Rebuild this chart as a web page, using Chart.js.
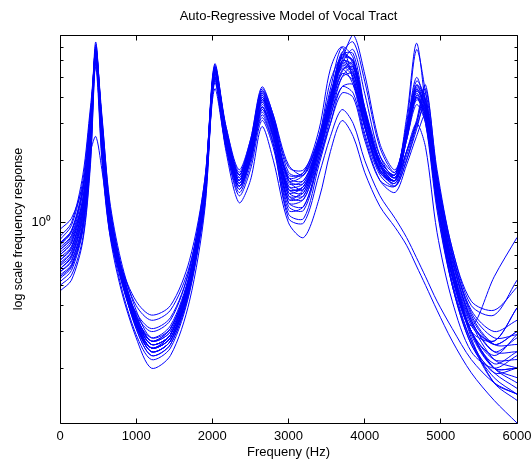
<!DOCTYPE html>
<html>
<head>
<meta charset="utf-8">
<title>Auto-Regressive Model of Vocal Tract</title>
<script src="https://cdn.jsdelivr.net/npm/chart.js@4.4.1/dist/chart.umd.min.js"></script>
<style>
  html, body { margin: 0; padding: 0; background: #fff; }
  canvas { display: block; }
</style>
</head>
<body>
<canvas id="myChart" width="532" height="466"></canvas>
<script>
// frequency grid (Hz) shared by every response curve
const freqs = [0, 150, 300, 400, 470, 550, 650, 800, 1000, 1200, 1450, 1700, 1900, 2030, 2180, 2350, 2500, 2650, 2800, 3000, 3200, 3400, 3550, 3700, 3850, 4000, 4200, 4400, 4550, 4680, 4800, 4950, 5150, 5400, 5700, 6000];

// one response per analysis frame
const r01 = [0.74, 0.86, 1.3, 2.8, 6.9, 2.4, 1.05, 0.6, 0.34, 0.26, 0.29, 0.52, 1.4, 5.6, 2.6, 1.6, 2.3, 4.2, 3.1, 1.6, 1.45, 2.4, 3.8, 6.0, 5.6, 3.2, 1.9, 1.6, 2.6, 4.6, 3.4, 1.3, 0.55, 0.3, 0.2, 0.17];
const r02 = [0.55, 0.62, 0.95, 2.3, 7.2, 3.0, 1.2, 0.62, 0.36, 0.27, 0.3, 0.55, 1.5, 5.8, 2.8, 1.7, 2.4, 4.0, 2.9, 1.35, 1.3, 2.2, 3.5, 6.4, 6.5, 3.6, 2.0, 1.7, 2.9, 5.0, 3.5, 1.4, 0.6, 0.3, 0.21, 0.24];
const r03 = [0.83, 0.97, 1.6, 3.4, 5.6, 2.0, 0.9, 0.55, 0.37, 0.31, 0.35, 0.6, 1.6, 5.0, 2.5, 1.5, 2.1, 3.6, 2.7, 1.5, 1.55, 2.5, 4.2, 5.5, 4.6, 2.7, 1.7, 1.5, 2.0, 2.9, 3.7, 1.5, 0.55, 0.3, 0.27, 0.39];
const r04 = [0.62, 0.7, 1.1, 2.6, 6.6, 2.8, 1.1, 0.56, 0.31, 0.23, 0.26, 0.48, 1.3, 5.4, 2.9, 1.8, 2.5, 4.4, 3.3, 1.75, 1.7, 2.6, 4.4, 7.0, 6.2, 3.4, 2.0, 1.7, 2.7, 4.2, 3.2, 1.2, 0.5, 0.26, 0.18, 0.15];
const r05 = [0.93, 1.05, 1.5, 2.2, 2.6, 1.8, 1.0, 0.62, 0.4, 0.34, 0.38, 0.62, 1.4, 4.4, 2.3, 1.5, 2.0, 3.2, 2.4, 1.2, 1.15, 2.0, 3.0, 4.2, 4.0, 2.5, 1.6, 1.5, 2.2, 3.0, 2.3, 0.9, 0.42, 0.24, 0.2, 0.23];
const r06 = [0.66, 0.76, 1.2, 2.9, 6.2, 2.5, 1.0, 0.57, 0.33, 0.25, 0.28, 0.5, 1.2, 4.9, 2.4, 1.45, 2.0, 3.5, 2.6, 1.25, 1.3, 2.1, 3.4, 5.0, 5.2, 3.0, 1.8, 1.55, 2.5, 4.0, 3.0, 1.15, 0.5, 0.27, 0.19, 0.2];
const r07 = [0.78, 0.9, 1.45, 3.2, 6.8, 2.6, 1.0, 0.58, 0.35, 0.27, 0.31, 0.56, 1.5, 5.5, 2.7, 1.65, 2.3, 4.0, 3.0, 1.7, 1.75, 2.5, 4.0, 6.0, 8.0, 5.2, 2.4, 1.8, 2.8, 4.3, 3.6, 1.5, 0.65, 0.34, 0.24, 0.28];
const r08 = [0.5, 0.56, 0.85, 2.0, 6.0, 3.2, 1.3, 0.66, 0.38, 0.28, 0.31, 0.55, 1.45, 5.2, 2.6, 1.6, 2.2, 3.9, 2.9, 1.4, 1.35, 2.3, 3.6, 5.6, 5.0, 2.9, 1.75, 1.6, 2.2, 3.0, 4.2, 1.6, 0.6, 0.28, 0.17, 0.14];
const r09 = [0.7, 0.8, 1.25, 2.7, 6.4, 2.3, 0.9, 0.48, 0.28, 0.2, 0.23, 0.42, 1.15, 5.0, 2.5, 1.5, 2.1, 3.7, 2.8, 1.3, 1.45, 2.3, 3.9, 6.6, 5.8, 3.3, 1.9, 1.65, 2.7, 4.4, 3.3, 1.3, 0.55, 0.29, 0.2, 0.2];
const r10 = [0.6, 0.68, 1.05, 2.4, 6.3, 2.6, 1.05, 0.55, 0.31, 0.23, 0.26, 0.47, 1.3, 4.8, 2.2, 1.25, 1.6, 2.9, 2.0, 1.0, 0.85, 1.3, 2.2, 3.1, 2.6, 1.75, 1.2, 0.95, 0.78, 0.62, 0.5, 0.38, 0.27, 0.19, 0.14, 0.109];
const r11 = [0.58, 0.66, 1.0, 2.4, 6.7, 2.9, 1.15, 0.6, 0.34, 0.25, 0.28, 0.5, 1.35, 5.3, 2.7, 1.7, 2.4, 4.3, 3.2, 1.85, 1.8, 2.6, 4.8, 6.2, 5.0, 3.0, 1.8, 1.6, 2.8, 4.8, 3.9, 1.6, 0.7, 0.38, 0.3, 0.34];
const r12 = [0.74, 0.84, 1.3, 3.0, 6.0, 2.2, 0.95, 0.53, 0.32, 0.25, 0.29, 0.53, 1.4, 5.1, 2.4, 1.45, 2.0, 3.4, 2.5, 1.15, 1.2, 2.0, 3.2, 5.0, 5.6, 3.4, 1.9, 1.5, 2.0, 2.8, 3.9, 1.5, 0.58, 0.3, 0.23, 0.29];
const r13 = [0.52, 0.59, 0.92, 2.1, 6.5, 3.3, 1.25, 0.63, 0.36, 0.27, 0.3, 0.54, 1.5, 5.7, 2.9, 1.75, 2.5, 4.5, 3.3, 1.9, 1.7, 2.4, 3.9, 6.3, 6.0, 3.6, 2.1, 1.75, 3.0, 6.8, 4.2, 1.7, 0.75, 0.4, 0.36, 0.53];
const r14 = [0.86, 1.0, 1.7, 3.6, 6.1, 2.1, 0.92, 0.55, 0.36, 0.3, 0.34, 0.6, 1.55, 5.0, 2.4, 1.5, 2.1, 3.6, 2.6, 1.45, 1.5, 2.2, 3.5, 5.2, 4.8, 2.9, 1.75, 1.6, 2.5, 3.7, 3.0, 1.25, 0.55, 0.32, 0.55, 0.85];
const r15 = [0.64, 0.73, 1.15, 2.8, 7.0, 2.7, 1.05, 0.56, 0.32, 0.24, 0.27, 0.5, 1.3, 5.3, 2.6, 1.55, 2.2, 3.8, 2.8, 1.45, 1.4, 2.3, 3.7, 5.8, 6.8, 4.2, 2.1, 1.65, 2.6, 4.1, 3.7, 1.6, 0.7, 0.36, 0.26, 0.26];
const r16 = [0.7, 0.8, 1.25, 2.8, 6.2, 2.4, 0.98, 0.54, 0.32, 0.25, 0.28, 0.5, 1.3, 4.7, 2.3, 1.4, 1.9, 3.3, 2.4, 1.05, 1.0, 1.7, 2.6, 3.5, 3.0, 2.0, 1.35, 1.05, 0.85, 0.68, 0.55, 0.42, 0.31, 0.22, 0.17, 0.15];
const r17 = [0.56, 0.63, 0.98, 2.3, 6.8, 3.1, 1.2, 0.6, 0.34, 0.26, 0.29, 0.52, 1.4, 5.5, 2.8, 1.7, 2.4, 4.1, 3.0, 1.55, 1.6, 2.4, 4.0, 6.2, 6.0, 3.4, 1.95, 1.65, 2.7, 4.3, 3.5, 1.4, 0.62, 0.33, 0.22, 0.2];
const r18 = [0.8, 0.92, 1.5, 3.3, 6.4, 2.5, 1.05, 0.62, 0.42, 0.36, 0.4, 0.66, 1.6, 5.3, 2.6, 1.6, 2.2, 3.8, 2.8, 1.5, 1.45, 2.4, 3.9, 5.8, 5.3, 3.1, 1.85, 1.6, 2.6, 4.0, 3.1, 1.3, 0.6, 0.33, 0.26, 0.3];
const r19 = [0.68, 0.77, 1.2, 2.7, 6.6, 2.6, 1.02, 0.55, 0.32, 0.24, 0.27, 0.49, 1.3, 5.0, 2.5, 1.55, 2.2, 3.9, 2.9, 1.35, 1.4, 2.3, 3.6, 5.4, 5.6, 3.3, 1.9, 1.6, 2.5, 3.9, 3.3, 1.3, 0.56, 0.3, 0.22, 0.22];
const r20 = [0.6, 0.69, 1.08, 2.5, 6.4, 2.8, 1.1, 0.57, 0.33, 0.25, 0.28, 0.5, 1.35, 5.4, 2.7, 1.65, 2.3, 4.0, 3.0, 1.6, 1.55, 2.4, 3.8, 5.9, 5.4, 3.2, 1.9, 1.7, 3.2, 7.3, 3.6, 1.3, 0.56, 0.3, 0.2, 0.18];
const r21 = [0.76, 0.87, 1.4, 3.1, 6.3, 2.4, 0.98, 0.56, 0.34, 0.27, 0.31, 0.55, 1.4, 5.2, 2.5, 1.5, 2.0, 3.5, 2.6, 1.25, 1.2, 2.1, 3.3, 4.5, 4.6, 2.9, 1.75, 1.55, 2.1, 3.0, 4.4, 1.8, 0.75, 0.42, 0.38, 0.49];
const r22 = [0.47, 0.53, 0.82, 1.9, 5.9, 3.0, 1.2, 0.62, 0.35, 0.26, 0.29, 0.52, 1.4, 5.5, 2.7, 1.6, 2.3, 4.0, 3.0, 1.45, 1.5, 2.4, 3.8, 6.0, 5.7, 3.3, 1.9, 1.6, 2.6, 4.1, 3.2, 1.25, 0.52, 0.27, 0.17, 0.15];
const r23 = [0.72, 0.82, 1.3, 2.9, 7.4, 2.5, 0.95, 0.5, 0.29, 0.22, 0.25, 0.46, 1.25, 5.6, 2.8, 1.7, 2.4, 4.2, 3.1, 1.65, 1.6, 2.5, 4.1, 6.4, 6.0, 3.5, 2.0, 1.7, 2.8, 4.5, 3.8, 1.6, 0.68, 0.34, 0.24, 0.24];
const r24 = [0.63, 0.72, 1.12, 2.6, 6.1, 2.5, 1.0, 0.55, 0.33, 0.25, 0.29, 0.52, 1.3, 4.9, 2.3, 1.35, 1.8, 3.1, 2.3, 1.1, 1.05, 1.9, 3.0, 4.5, 4.2, 2.6, 1.6, 1.4, 1.9, 2.6, 3.3, 1.3, 0.5, 0.26, 0.19, 0.16];
const r25 = [0.54, 0.61, 0.94, 2.2, 6.3, 3.1, 1.2, 0.6, 0.34, 0.26, 0.29, 0.53, 1.45, 5.3, 2.6, 1.6, 2.2, 3.9, 2.9, 1.4, 1.5, 2.3, 3.7, 5.7, 5.2, 3.0, 1.8, 1.6, 2.6, 4.0, 3.4, 1.4, 0.62, 0.32, 0.27, 0.39];
const r26 = [0.66, 0.75, 1.18, 2.7, 6.7, 2.6, 1.03, 0.55, 0.32, 0.24, 0.27, 0.49, 1.3, 5.2, 2.6, 1.6, 2.3, 4.1, 3.0, 1.65, 1.75, 2.8, 5.5, 7.0, 4.8, 2.9, 1.8, 1.6, 2.6, 4.4, 3.6, 1.5, 0.66, 0.35, 0.26, 0.3];
const r27 = [0.79, 0.91, 1.45, 3.2, 6.5, 2.4, 0.98, 0.56, 0.35, 0.28, 0.32, 0.57, 1.5, 5.4, 2.6, 1.55, 2.1, 3.6, 2.7, 1.3, 1.35, 2.2, 3.5, 5.3, 5.9, 3.5, 1.95, 1.65, 2.2, 3.1, 4.6, 1.7, 0.62, 0.3, 0.2, 0.2];
const r28 = [0.58, 0.65, 1.0, 2.4, 6.9, 3.0, 1.15, 0.58, 0.33, 0.24, 0.27, 0.5, 1.35, 5.6, 2.8, 1.7, 2.4, 4.3, 3.2, 1.6, 1.7, 2.5, 4.0, 6.5, 7.4, 4.8, 2.3, 1.75, 2.9, 4.6, 3.9, 1.7, 0.72, 0.37, 0.28, 0.29];

const responses = [r01, r02, r03, r04, r05, r06, r07, r08, r09, r10, r11, r12, r13, r14,
  r15, r16, r17, r18, r19, r20, r21, r22, r23, r24, r25, r26, r27, r28];

// axis ticks
const xTicks = [0, 1000, 2000, 3000, 4000, 5000, 6000];
const yMajorTicks = [1];
const yMinorTicks = [0.2, 0.3, 0.4, 0.5, 0.6, 0.7, 0.8, 0.9, 2, 3, 4, 5, 6, 7, 8];

const FONT = "'Liberation Sans', Arial, Helvetica, sans-serif";

// matlab style box: all four sides, ticks pointing inwards
const axesBox = {
  id: 'axesBox',
  afterDatasetsDraw (chart) {
    const { ctx, chartArea: { left, right, top, bottom }, scales: { x, y } } = chart;
    const px = v => Math.floor(v) + 0.5;
    ctx.save();
    ctx.strokeStyle = '#000';
    ctx.lineWidth = 1;
    ctx.beginPath();
    ctx.moveTo(px(left), px(top));
    ctx.lineTo(px(right), px(top));
    ctx.lineTo(px(right), px(bottom));
    ctx.lineTo(px(left), px(bottom));
    ctx.closePath();
    xTicks.forEach(v => {
      const xp = px(x.getPixelForValue(v));
      ctx.moveTo(xp, px(bottom)); ctx.lineTo(xp, px(bottom) - 5);
      ctx.moveTo(xp, px(top)); ctx.lineTo(xp, px(top) + 5);
    });
    const yTick = (v, len) => {
      const yp = px(y.getPixelForValue(v));
      ctx.moveTo(px(left), yp); ctx.lineTo(px(left) + len, yp);
      ctx.moveTo(px(right), yp); ctx.lineTo(px(right) - len, yp);
    };
    yMajorTicks.forEach(v => yTick(v, 5));
    yMinorTicks.forEach(v => yTick(v, 3));
    ctx.stroke();
    ctx.restore();
  }
};

const ctx = document.getElementById('myChart').getContext('2d');
const myChart = new Chart(ctx, {
  type: 'line',
  data: {
    datasets: responses.map(r => ({
      data: freqs.map((f, i) => ({ x: f, y: r[i] })),
      borderColor: '#0000ff',
      borderWidth: 1,
      pointRadius: 0,
      fill: false,
      tension: 0.3
    }))
  },
  options: {
    responsive: false,
    animation: false,
    devicePixelRatio: 1,
    layout: { padding: { left: 0, right: 15, top: 0, bottom: 0 } },
    plugins: {
      legend: { display: false },
      tooltip: { enabled: false },
      title: {
        display: true,
        text: 'Auto-Regressive Model of Vocal Tract',
        fullSize: false,
        color: '#000',
        font: { family: FONT, size: 13, weight: 'normal' },
        padding: { top: 9, bottom: 10.4 }
      }
    },
    scales: {
      x: {
        type: 'linear',
        min: 0,
        max: 6000,
        afterBuildTicks: s => { s.ticks = xTicks.map(v => ({ value: v })); },
        afterFit: s => { s.height = 43; s.paddingLeft = 0; s.paddingRight = 0; },
        grid: { display: false, drawTicks: false },
        border: { display: false },
        ticks: {
          color: '#000',
          font: { family: FONT, size: 13 },
          padding: 6,
          maxRotation: 0,
          autoSkip: false,
          callback: v => String(v)
        },
        title: {
          display: true,
          text: 'Frequeny (Hz)',
          color: '#000',
          font: { family: FONT, size: 13 },
          padding: { top: 0, bottom: 6 }
        }
      },
      y: {
        type: 'logarithmic',
        min: 0.109,
        max: 8,
        afterBuildTicks: s => { s.ticks = yMajorTicks.map(v => ({ value: v, major: true })); },
        afterFit: s => { s.width = 60; s.paddingTop = 0; s.paddingBottom = 0; },
        grid: { display: false, drawTicks: false },
        border: { display: false },
        ticks: {
          color: '#000',
          font: { family: FONT, size: 13 },
          padding: 9,
          autoSkip: false,
          callback: v => (Math.abs(v - 1) < 1e-9 ? '10\u2070' : '')
        },
        title: {
          display: true,
          text: 'log scale frequency response',
          color: '#000',
          font: { family: FONT, size: 12.5 },
          padding: { top: 11.5, bottom: 0 }
        }
      }
    }
  },
  plugins: [axesBox]
});
</script>
</body>
</html>
